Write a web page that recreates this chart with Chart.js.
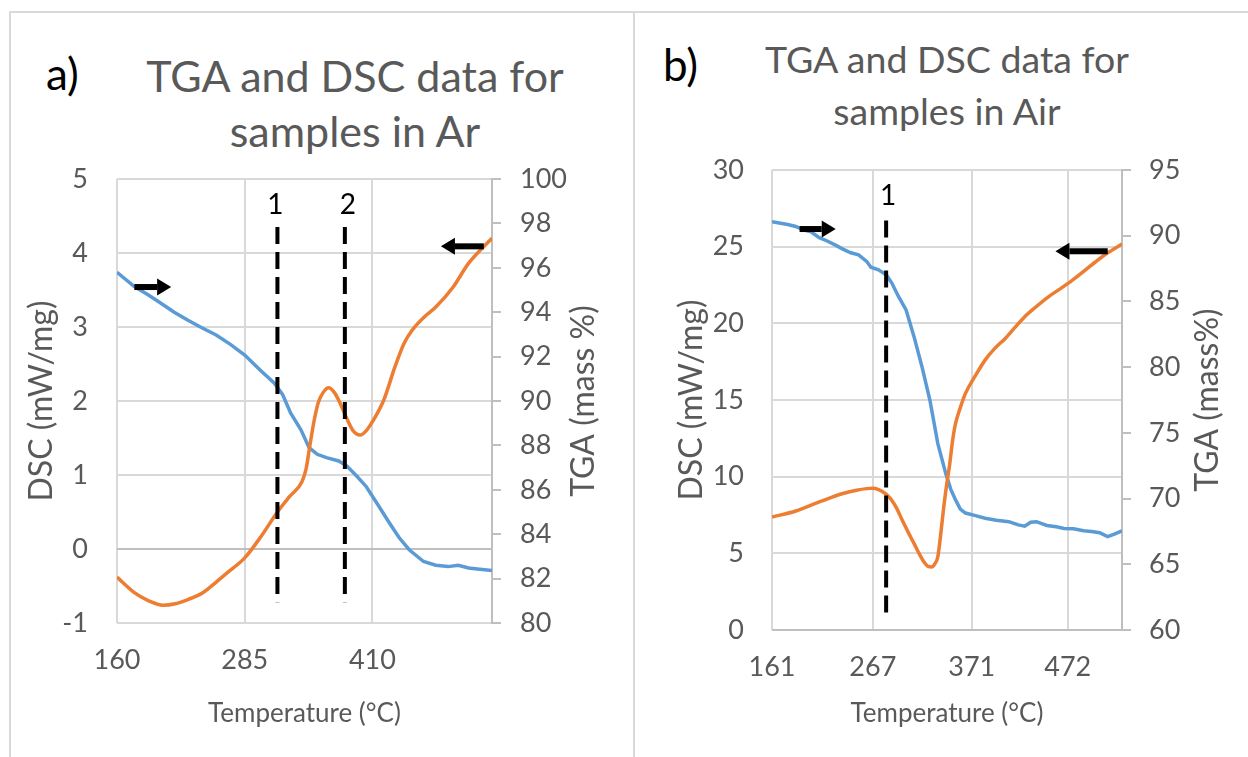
<!DOCTYPE html>
<html>
<head>
<meta charset="utf-8">
<script src="https://cdn.jsdelivr.net/npm/chart.js@4.4.0/dist/chart.umd.min.js"></script>
<style>
  body { margin: 0; background: #fff; width: 1248px; height: 757px; overflow: hidden; position: relative; font-family: Lato, "Open Sans", sans-serif; }
  .line { position: absolute; background: #d9d9d9; }
  .title { position: absolute; color: #595959; text-align: center; white-space: nowrap; }
  .tag { position: absolute; color: #000; }
  canvas { position: absolute; }
</style>
</head>
<body>
<div class="line" style="left:10px;top:11px;width:1238px;height:2px"></div>
<div class="line" style="left:9px;top:11px;width:2px;height:746px"></div>
<div class="line" style="left:633px;top:11px;width:2px;height:746px"></div>

<div class="tag" style="left:46px;top:45px;font-size:44px;line-height:56px">a)</div>
<div class="title" style="left:105px;width:500px;top:48px;font-size:43px;line-height:55px">TGA and DSC data for<br>samples in Ar</div>
<div class="tag" style="left:663px;top:36px;font-size:44px;line-height:56px">b)</div>
<div class="title" style="left:697px;width:500px;top:33px;font-size:37.5px;line-height:52px">TGA and DSC data for<br>samples in Air</div>

<canvas id="chartA" width="620" height="607" style="left:10px;top:150px"></canvas>
<canvas id="chartB" width="612" height="607" style="left:636px;top:150px"></canvas>

<script>
// ---- a) samples in Ar ----
const arTgaTemp = [160, 177, 190, 203, 216, 229, 243, 257, 271, 285, 300, 314, 322, 330, 340, 348, 356, 365, 377, 385, 395, 404, 415, 426, 436, 446, 460, 472, 484, 494, 504, 515, 527];
const arTga     = [95.8, 95.15, 94.8, 94.4, 94.0, 93.65, 93.3, 92.97, 92.55, 92.07, 91.4, 90.8, 90.3, 89.45, 88.7, 87.9, 87.6, 87.45, 87.3, 87.07, 86.6, 86.14, 85.35, 84.55, 83.85, 83.3, 82.77, 82.6, 82.54, 82.6, 82.48, 82.42, 82.36];
const arDscTemp = [160, 177, 191, 205, 217, 230, 244, 256, 268, 285, 301, 317, 329, 341, 345, 349, 353, 357, 362, 367, 373, 379, 385, 391, 398, 404, 410, 421, 432, 441, 449, 461, 472, 489, 504, 527];
const arDsc     = [-0.38, -0.59, -0.70, -0.76, -0.74, -0.68, -0.59, -0.46, -0.32, -0.12, 0.17, 0.50, 0.71, 0.91, 1.08, 1.42, 1.74, 1.98, 2.12, 2.18, 2.11, 1.95, 1.76, 1.6, 1.54, 1.6, 1.72, 2.01, 2.46, 2.78, 2.96, 3.14, 3.27, 3.54, 3.86, 4.20];
const arTempTicks = [160, 285, 410];
const arMarkers = [317, 383];
const arMarkerText = ['1', '2'];
const arMarkerTextTemp = [315, 386];

// ---- b) samples in Air ----
const airTgaTemp = [161, 170, 177.5, 186, 194, 202, 210.7, 219, 227.3, 235, 243.8, 252, 260.5, 265, 273, 281.4, 287, 293.8, 302, 310.4, 318.8, 327, 335.3, 343.7, 349, 354, 359, 364.4, 375, 385, 397, 410, 420, 426.7, 433, 439, 450, 460, 468, 478, 488.7, 497, 505.5, 513.8, 521, 529];
const airTga     = [91.07, 90.95, 90.85, 90.7, 90.45, 90.3, 89.85, 89.6, 89.3, 89.0, 88.7, 88.55, 88.05, 87.6, 87.4, 87.0, 86.4, 85.4, 84.35, 82.3, 80.0, 77.5, 74.2, 71.9, 70.7, 69.9, 69.2, 68.9, 68.7, 68.5, 68.35, 68.24, 68.0, 67.9, 68.2, 68.24, 67.95, 67.85, 67.73, 67.7, 67.55, 67.5, 67.4, 67.1, 67.3, 67.55];
const airDscTemp = [161, 186, 210.7, 235.6, 250, 260.5, 267, 273, 279, 285.6, 292, 298, 304, 310.4, 316, 320.8, 325, 329, 332, 335.3, 338.5, 341.6, 344.7, 347.8, 351, 354, 359, 364.4, 375, 385, 395, 406, 416, 426.7, 439, 451.6, 464, 476.6, 489, 501, 514, 529];
const airDsc     = [7.37, 7.76, 8.35, 8.9, 9.12, 9.22, 9.24, 9.16, 8.95, 8.57, 7.95, 7.15, 6.4, 5.63, 4.95, 4.43, 4.15, 4.11, 4.3, 4.76, 6.3, 8.02, 9.5, 10.8, 12.4, 13.47, 14.5, 15.43, 16.6, 17.6, 18.35, 19.0, 19.7, 20.43, 21.1, 21.73, 22.25, 22.8, 23.4, 24.0, 24.6, 25.17];
const airTempTicks = [161, 267, 371, 472];
const airMarkers = [281];
const airMarkerText = ['1'];
const airMarkerTextTemp = [283];

const BLUE = '#5b9bd5', ORANGE = '#ed7d31', GRID = '#d9d9d9', AXIS = '#bfbfbf', TEXT = '#595959';
const FONT = 'Lato, "Open Sans", sans-serif';
Chart.defaults.font.family = FONT;
Chart.defaults.color = TEXT;

function pairs(xs, ys) {
  return xs.map((x, i) => ({x: x, y: ys[i]}));
}

// dashed marker labels, arrows and the right axis title
const overlay = {
  id: 'overlay',
  afterDatasetsDraw(chart, args, o) {
    const ctx = chart.ctx, x = chart.scales.x, y = chart.scales.y;
    ctx.save();
    ctx.fillStyle = '#000';
    ctx.font = '28px ' + FONT;
    ctx.textAlign = 'center';
    ctx.textBaseline = 'middle';
    o.text.forEach((t, i) => ctx.fillText(t, x.getPixelForValue(o.textTemp[i]), y.getPixelForValue(o.textAt)));
    o.arrows.forEach(a => {
      const x0 = x.getPixelForValue(a[0]), x1 = x.getPixelForValue(a[1]), py = y.getPixelForValue(a[2]);
      const d = Math.sign(x1 - x0), hx = x1 - d * 14;
      ctx.fillRect(Math.min(x0, hx), py - 3, Math.abs(hx - x0), 6);
      ctx.beginPath();
      ctx.moveTo(x1, py);
      ctx.lineTo(hx, py - 8.5);
      ctx.lineTo(hx, py + 8.5);
      ctx.closePath();
      ctx.fill();
    });
    const area = chart.chartArea;
    ctx.fillStyle = TEXT;
    ctx.font = '32px ' + FONT;
    ctx.translate(chart.width - o.titleOffset, (area.top + area.bottom) / 2);
    ctx.rotate(-Math.PI / 2);
    ctx.fillText(o.rightTitle, 0, 0);
    ctx.restore();
  }
};

function makeChart(id, p) {
  const markerSets = p.markers.map(t => ({
    data: [{x: t, y: p.markerTop}, {x: t, y: p.markerBottom}],
    yAxisID: 'y', borderColor: '#000', borderWidth: 4, borderDash: [17, 8],
    pointRadius: 0, fill: false
  }));
  return new Chart(document.getElementById(id), {
    type: 'line',
    data: {
      datasets: markerSets.concat([
        { label: 'DSC', data: pairs(p.dscTemp, p.dsc), yAxisID: 'y', borderColor: ORANGE, borderWidth: 3.5,
          pointRadius: 0, cubicInterpolationMode: 'monotone', fill: false },
        { label: 'TGA', data: pairs(p.tgaTemp, p.tga), yAxisID: 'y1', borderColor: BLUE, borderWidth: 3.5,
          pointRadius: 0, fill: false }
      ])
    },
    options: {
      responsive: false,
      animation: false,
      layout: { padding: { top: p.top, left: 0, right: 0, bottom: 0 } },
      plugins: {
        legend: { display: false },
        tooltip: { enabled: false },
        overlay: p.overlay
      },
      scales: {
        x: {
          type: 'linear', min: p.tempTicks[0], max: p.tempMax,
          afterBuildTicks: s => { s.ticks = p.tempTicks.map(v => ({value: v})); },
          afterFit: s => { s.height = p.xHeight; },
          grid: { color: GRID, lineWidth: 2, drawTicks: false },
          border: { display: false },
          ticks: { font: { size: 27 }, padding: 21, autoSkip: false, maxRotation: 0 },
          title: { display: true, text: 'Temperature (°C)', font: { size: 26 }, padding: { top: 0, bottom: 28 } }
        },
        y: {
          position: 'left', min: p.dscMin, max: p.dscMax,
          ticks: { stepSize: p.dscStep, font: { size: 27 }, padding: p.leftPad },
          afterFit: s => { s.width = p.leftWidth; s.paddingTop = 0; s.paddingBottom = 0; },
          grid: { color: c => c.tick && c.tick.value === 0 ? AXIS : GRID, lineWidth: 2, drawTicks: false },
          border: { display: false },
          title: { display: true, text: 'DSC (mW/mg)', font: { size: 32 }, padding: { top: p.leftTitlePad, bottom: 0 } }
        },
        y1: {
          position: 'right', min: p.tgaMin, max: p.tgaMax,
          ticks: { stepSize: p.tgaStep, font: { size: 27 }, padding: p.rightPad },
          afterFit: s => { s.width = p.rightWidth; s.paddingTop = 0; s.paddingBottom = 0; },
          grid: { drawOnChartArea: false, color: AXIS, lineWidth: 2, tickLength: 9 },
          border: { display: true, color: AXIS, width: 2 }
        }
      }
    },
    plugins: [overlay]
  });
}

makeChart('chartA', {
  tgaTemp: arTgaTemp, tga: arTga, dscTemp: arDscTemp, dsc: arDsc,
  tempTicks: arTempTicks, tempMax: 527,
  markers: arMarkers, markerTop: 4.35, markerBottom: -0.72,
  dscMin: -1, dscMax: 5, dscStep: 1, tgaMin: 80, tgaMax: 100, tgaStep: 2,
  top: 29, xHeight: 134, leftWidth: 107, rightWidth: 138, leftPad: 29, rightPad: 19, leftTitlePad: 12,
  overlay: {
    text: arMarkerText, textTemp: arMarkerTextTemp, textAt: 4.65,
    arrows: [[177, 213, 3.54], [519, 477, 4.09]],
    rightTitle: 'TGA (mass %)', titleOffset: 46
  }
});

makeChart('chartB', {
  tgaTemp: airTgaTemp, tga: airTga, dscTemp: airDscTemp, dsc: airDsc,
  tempTicks: airTempTicks, tempMax: 529,
  markers: airMarkers, markerTop: 26.7, markerBottom: 0.8,
  dscMin: 0, dscMax: 30, dscStep: 5, tgaMin: 60, tgaMax: 95, tgaStep: 5,
  top: 20, xHeight: 127, leftWidth: 136, rightWidth: 126, leftPad: 28, rightPad: 18, leftTitlePad: 36,
  overlay: {
    text: airMarkerText, textTemp: airMarkerTextTemp, textAt: 28.3,
    arrows: [[190, 228, 26.15], [514, 459, 24.7]],
    rightTitle: 'TGA (mass%)', titleOffset: 40
  }
});
</script>
</body>
</html>
